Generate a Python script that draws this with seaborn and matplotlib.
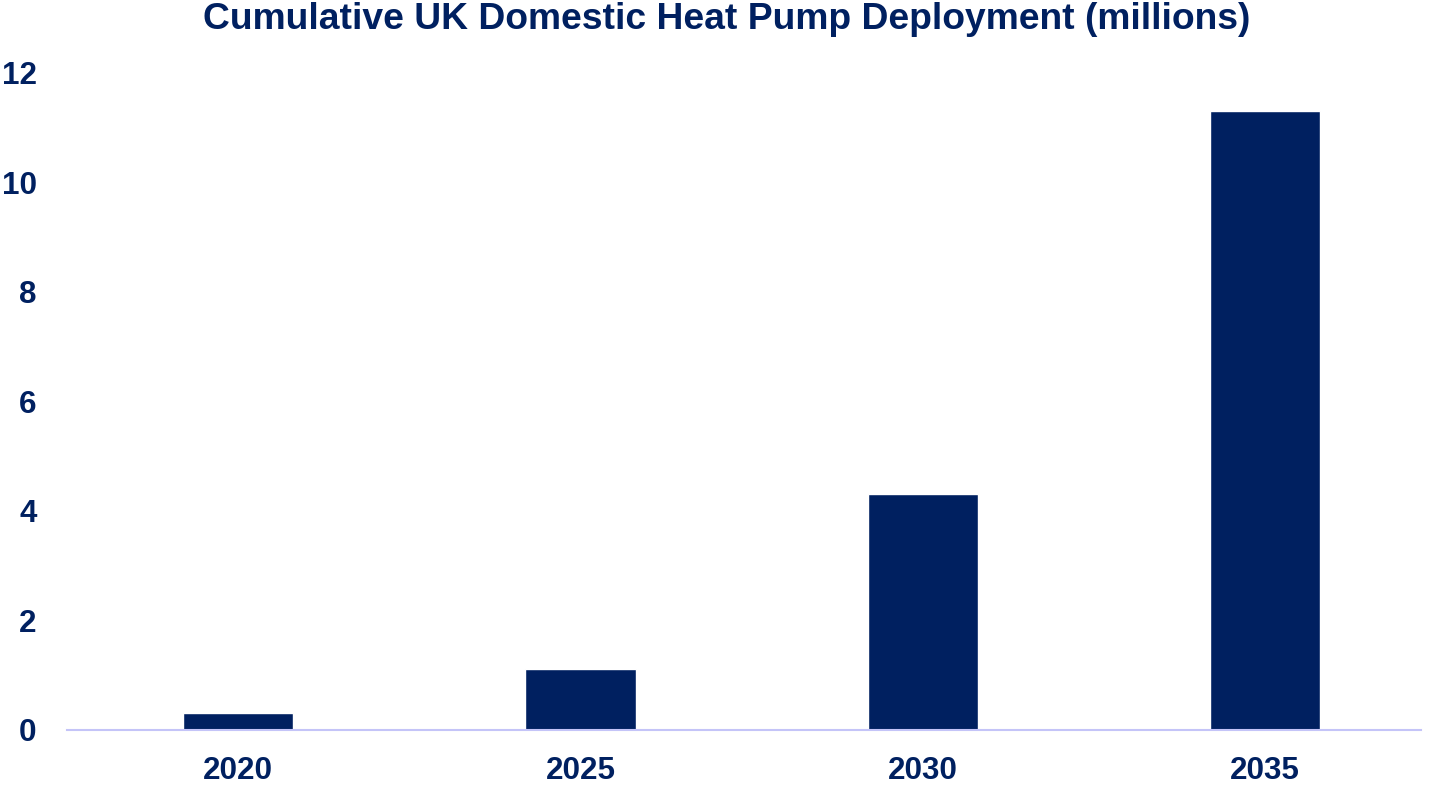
import matplotlib
matplotlib.use('Agg')
import matplotlib.pyplot as plt
import seaborn as sns
import pandas as pd

years = ['2020', '2025', '2030', '2035']
deployment = [0.31, 1.11, 4.31, 11.31]

navy = '#002060'

sns.set_style('white')
plt.rcParams['font.family'] = ['Liberation Sans', 'DejaVu Sans']

df = pd.DataFrame({'year': years, 'millions': deployment})

fig = plt.figure(figsize=(14.36, 7.89), dpi=100)
# axes runs to the right edge, the baseline stops a little short
ax = fig.add_axes([0.0467, 0.0748, 0.9533, 0.8327])

sns.barplot(data=df, x='year', y='millions', color=navy, width=0.322,
            saturation=1, ax=ax)

ax.set_ylim(0, 12)
ax.set_xlim(-0.5, 3.5)
ax.set_yticks(range(0, 13, 2))
ax.set_xlabel('')
ax.set_ylabel('')

for s in ['top', 'right', 'left']:
    ax.spines[s].set_visible(False)
ax.spines['bottom'].set_color('#C4C4F8')
ax.spines['bottom'].set_linewidth(1.5)
ax.spines['bottom'].set_bounds(-0.5, 3.456)

ax.tick_params(axis='both', length=0, labelsize=22.6, labelcolor=navy)
ax.tick_params(axis='y', pad=22)
ax.tick_params(axis='x', pad=19)
for lbl in ax.get_xticklabels() + ax.get_yticklabels():
    lbl.set_fontweight('bold')

fig.suptitle('Cumulative UK Domestic Heat Pump Deployment (millions)',
             fontsize=26.8, fontweight='bold', color=navy, x=0.506, y=0.998)

fig.savefig('out.png', dpi=100)
